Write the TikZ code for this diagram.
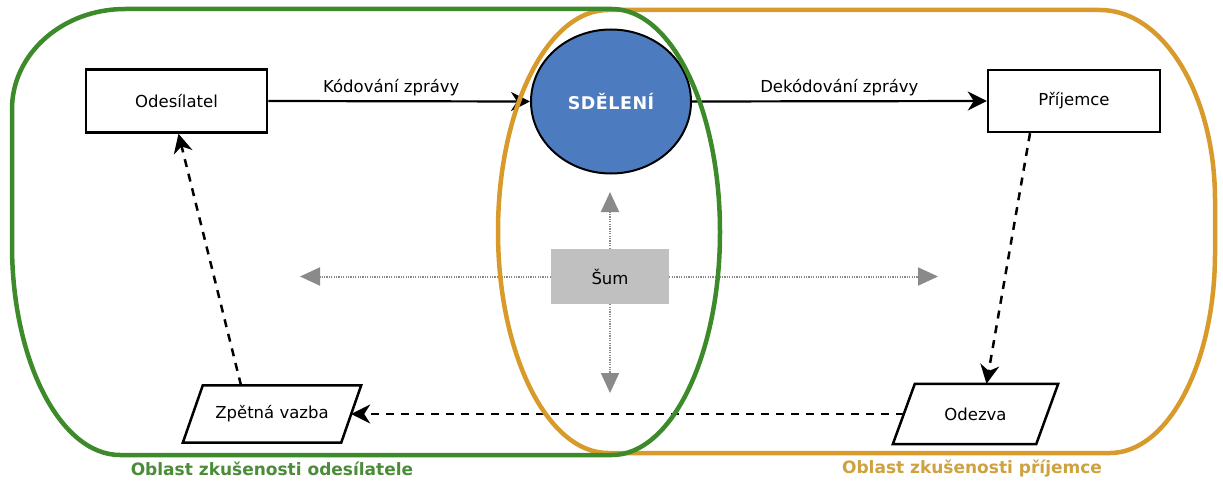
\documentclass[tikz,border=0pt]{standalone}
\usepackage{fontspec}
\setmainfont{DejaVu Sans}
\usetikzlibrary{arrows.meta,shapes.geometric}
\definecolor{grn}{HTML}{3C8A2A}
\definecolor{org}{HTML}{D89B2B}
\definecolor{grntxt}{HTML}{4A8C38}
\definecolor{orgtxt}{HTML}{CDA23F}
\definecolor{blu}{HTML}{4C7CBF}
\definecolor{sumgray}{HTML}{C0C0C0}
\definecolor{arrgray}{HTML}{8A8A8A}
\begin{document}
\begin{tikzpicture}[x=1pt,y=-1pt,
  font=\fontsize{16.5}{19}\selectfont,
  box/.style={draw, line width=2.5pt, minimum width=181pt, minimum height=63pt, inner sep=0pt},
  para/.style={minimum width=158pt, minimum height=57pt, inner sep=0pt},
  sol/.style={line width=2.2pt, -{Stealth[length=19pt,width=19pt,inset=6pt]}},
  dsh/.style={line width=2.5pt, dash pattern=on 8pt off 7pt, -{Stealth[length=19pt,width=19pt,inset=6pt]}},
  noise/.style={arrgray, line width=2pt, dash pattern=on 1.2pt off 1.2pt, -{Triangle[length=20pt,width=18pt]}},
  region/.style={line width=4.5pt},
  arrlbl/.style={inner sep=0pt},
  lbl/.style={font=\fontsize{17}{20}\selectfont\bfseries}]
\useasboundingbox (0,0) rectangle (1223,487);
\fill[white] (0,0) rectangle (1223,487);

% nodes
\node[box] (odes) at (176.5,101) {Odesílatel};
\node[box, minimum width=172pt, minimum height=62pt] (prij) at (1074,101) {Příjemce};
\node[ellipse, draw, line width=2pt, fill=blu, minimum width=160pt, minimum height=144pt,
      inner sep=0pt, text=white, font=\fontsize{17.5}{20}\selectfont\bfseries\addfontfeature{LetterSpace=3}] (sdel) at (611,101.5) {SDĚLENÍ};
\node[fill=sumgray, minimum width=118pt, minimum height=55pt, inner sep=0pt] (sum) at (610,276.5) {Šum};
\node[para] (zpet) at (272,414) {Zpětná vazba};
\node[para, minimum width=143pt, minimum height=60pt] (odez) at (975.5,414) {Odezva};

% parallelogram outlines
\draw[line width=2.5pt, line join=miter] ([xshift=10pt]zpet.north west) -- ([xshift=10pt]zpet.north east)
  -- ([xshift=-10pt]zpet.south east) -- ([xshift=-10pt]zpet.south west) -- cycle;
\draw[line width=2.5pt, line join=miter] ([xshift=11pt]odez.north west) -- ([xshift=11pt]odez.north east)
  -- ([xshift=-11pt]odez.south east) -- ([xshift=-11pt]odez.south west) -- cycle;

% noise arrows
\coordinate (nl) at (300,276.5);
\coordinate (nr) at (938,276.5);
\coordinate (nu) at (610,192);
\coordinate (nd) at (610,393);
\draw[noise] (sum.west) -- (nl);
\draw[noise] (sum.east) -- (nr);
\draw[noise] (sum.north) -- (nu);
\draw[noise] (sum.south) -- (nd);

% main arrows
\draw[sol] (odes.east) -- node[arrlbl, pos=0.47, above=4pt] {Kódování zprávy} (sdel.west);
\draw[sol] (sdel.east) -- node[arrlbl, midway, above=4pt] {Dekódování zprávy} (prij.west);
\draw[dsh] ([xshift=-44pt]prij.south) -- ([xshift=11pt]odez.north);
\draw[dsh] (odez.west) -- (zpet.east);
\draw[dsh] ([xshift=-31pt]zpet.north) -- ([xshift=2pt]odes.south);

% regions
\draw[region, org] (608,10) -- (1100,10) .. controls (1163.5,10) and (1215,95.1) .. (1215,200)
  -- (1215,253) .. controls (1215,363.4) and (1168,453) .. (1110,453)
  -- (608,453) .. controls (547.3,453) and (498,353.8) .. (498,231.5)
  .. controls (498,109.2) and (547.3,10) .. (608,10) -- cycle;
\draw[region, grn] (612,9) -- (125,9) .. controls (62.6,9) and (12,53.8) .. (12,109)
  -- (12,245) .. controls (12,360.9) and (60.4,455) .. (120,455)
  -- (612,455) .. controls (671.6,455) and (720,355.1) .. (720,232)
  .. controls (720,108.9) and (671.6,9) .. (612,9) -- cycle;

% region labels
\node[lbl, text=grntxt] (lg) at (272,469) {Oblast zkušenosti odesílatele};
\node[lbl, text=orgtxt] (lo) at (972,469) {Oblast zkušenosti příjemce};
\end{tikzpicture}
\end{document}
